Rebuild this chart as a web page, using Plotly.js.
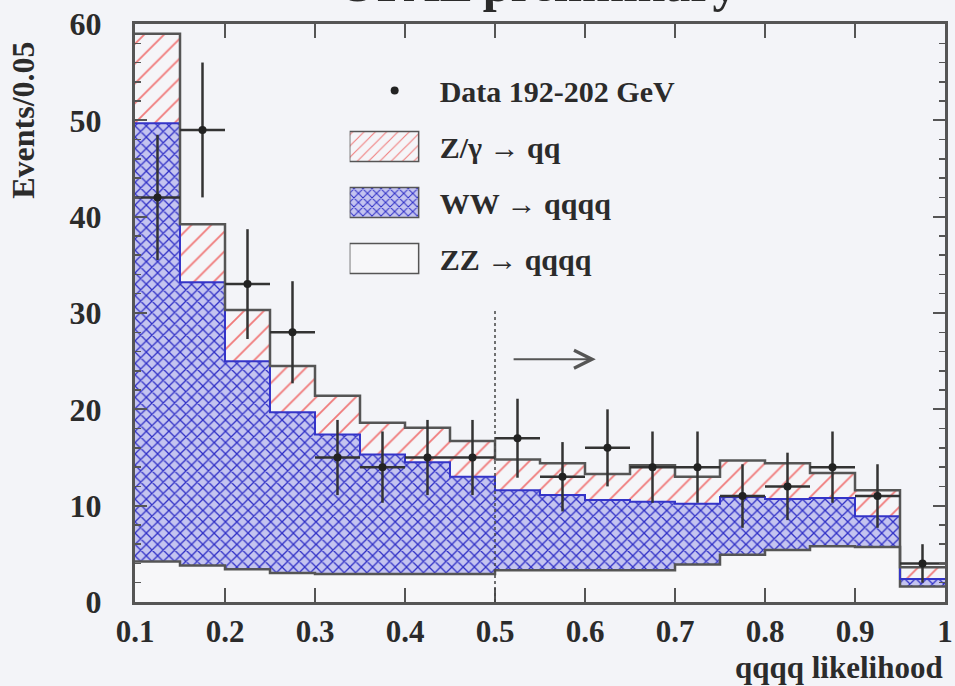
<!DOCTYPE html>
<html>
<head>
<meta charset="utf-8">
<script src="https://cdn.plot.ly/plotly-3.0.1.min.js"></script>
<style>
  html, body { margin: 0; padding: 0; background: #f3f4f8; }
  #plot { width: 955px; height: 686px; }
</style>
</head>
<body>
<div id="plot"></div>
<script>
// Bin centres of the qqqq likelihood histogram (bin width 0.05)
const binCenters = [0.125, 0.175, 0.225, 0.275, 0.325, 0.375, 0.425, 0.475, 0.525,
                    0.575, 0.625, 0.675, 0.725, 0.775, 0.825, 0.875, 0.925, 0.975];
// Monte Carlo contributions (events per bin), stacked ZZ -> WW -> Z/gamma
const zzQQQQ = [4.2, 3.8, 3.4, 3.0, 2.9, 2.9, 2.9, 2.9, 3.3, 3.3, 3.3, 3.3, 3.9, 4.9, 5.4, 5.8, 5.7, 1.6];
const wwQQQQ = [45.5, 29.4, 21.6, 16.7, 14.5, 12.4, 11.6, 10.1, 8.3, 7.8, 7.3, 7.1, 6.3, 6.0, 5.3, 5.0, 3.2, 0.8];
const zgQQ   = [9.3, 6.0, 5.3, 4.8, 4.0, 3.3, 3.6, 3.7, 3.2, 3.3, 2.7, 3.8, 2.8, 3.8, 3.7, 2.6, 2.7, 1.2];
// Data 192-202 GeV
const dataCounts = [42, 49, 33, 28, 15, 14, 15, 15, 17, 13, 16, 14, 14, 11, 12, 14, 11, 4];
const dataErrors = [6.5, 7, 5.7, 5.3, 3.9, 3.7, 3.9, 3.9, 4.1, 3.6, 4, 3.7, 3.7, 3.3, 3.5, 3.7, 3.3, 2];
const xTickVals = [0.1, 0.2, 0.3, 0.4, 0.5, 0.6, 0.7, 0.8, 0.9, 1];
const xTickText = ['0.1', '0.2', '0.3', '0.4', '0.5', '0.6', '0.7', '0.8', '0.9', '1'];
const yTickVals = [0, 10, 20, 30, 40, 50, 60];

const halfBin = 0.025;
const edges = binCenters.map(c => +(c - halfBin).toFixed(3)).concat([+(binCenters[binCenters.length - 1] + halfBin).toFixed(3)]);
const cumWW = zzQQQQ.map((v, i) => v + wwQQQQ[i]);
const cumTot = cumWW.map((v, i) => v + zgQQ[i]);
const stepY = arr => arr.concat([arr[arr.length - 1]]);

const FONT = 'Liberation Serif, Times New Roman, serif';
const TXT = '#2b2b2b';
const FRAME = '#555555';

const traces = [
  {
    type: 'bar', name: 'ZZ \u2192 qqqq', x: binCenters, y: zzQQQQ,
    marker: { color: '#f7f7f9', line: { width: 0 } },
    legendgroup: 'zz', legendrank: 4, hoverinfo: 'skip'
  },
  {
    type: 'bar', name: 'WW \u2192 qqqq', x: binCenters, y: wwQQQQ,
    marker: { color: '#c4c4f0', line: { width: 0 },
      pattern: { shape: 'x', fgcolor: '#3030c6', bgcolor: '#c4c4f0', size: 8, solidity: 0.3 } },
    legendgroup: 'ww', legendrank: 3, hoverinfo: 'skip'
  },
  {
    type: 'bar', name: 'Z/\u03b3 \u2192 qq', x: binCenters, y: zgQQ,
    marker: { color: '#f5f5f8', line: { width: 0 },
      pattern: { shape: '/', fgcolor: '#f07a7a', bgcolor: '#f5f5f8', size: 14, solidity: 0.13 } },
    legendgroup: 'zg', legendrank: 2, hoverinfo: 'skip'
  },
  { type: 'scatter', mode: 'lines', x: edges, y: stepY(zzQQQQ), line: { shape: 'hv', color: FRAME, width: 2.5 }, showlegend: false, hoverinfo: 'skip' },
  { type: 'scatter', mode: 'lines', x: edges, y: stepY(cumWW), line: { shape: 'hv', color: '#3434c8', width: 2 }, showlegend: false, hoverinfo: 'skip' },
  { type: 'scatter', mode: 'lines', x: edges, y: stepY(cumTot), line: { shape: 'hv', color: FRAME, width: 2.5 }, showlegend: false, hoverinfo: 'skip' },
  {
    type: 'scatter', mode: 'markers', name: 'Data 192-202 GeV', x: binCenters, y: dataCounts,
    marker: { color: '#222', size: 8 },
    error_y: { type: 'data', array: dataErrors, visible: true, color: '#333', thickness: 2.5, width: 0 },
    error_x: { type: 'constant', value: halfBin, visible: true, color: '#333', thickness: 2.5, width: 0 },
    legendgroup: 'data', legendrank: 1, hoverinfo: 'skip'
  }
];

const tickFont = { family: FONT, size: 31, color: TXT, weight: 'bold' };

const layout = {
  width: 955, height: 686,
  margin: { l: 135, r: 10, t: 24, b: 84 },
  paper_bgcolor: '#f3f4f8', plot_bgcolor: '#f3f4f8',
  barmode: 'stack', bargap: 0,
  showlegend: true,
  title: {
    text: 'OPAL preliminary', xref: 'container', yref: 'container',
    x: 0.563, xanchor: 'center', y: 0.9985, yanchor: 'bottom',
    font: { family: FONT, size: 50, color: TXT, weight: 'bold' }
  },
  legend: {
    x: 0.265, xanchor: 'left', y: 0.93, yanchor: 'top',
    bgcolor: 'rgba(0,0,0,0)', borderwidth: 0,
    font: { family: FONT, size: 30, color: TXT, weight: 'bold' },
    itemwidth: 80, traceorder: 'grouped', tracegroupgap: 14
  },
  xaxis: {
    range: [0.1, 1.0], tickvals: xTickVals, ticktext: xTickText,
    ticks: 'inside', ticklen: 14, tickwidth: 2, tickcolor: FRAME,
    showline: true, linecolor: FRAME, linewidth: 3, mirror: 'ticks',
    showgrid: false, zeroline: false, tickfont: tickFont, ticklabelstandoff: 0,
    ticklabeloverflow: 'allow'
  },
  yaxis: {
    range: [0, 60], tickvals: yTickVals,
    ticks: 'inside', ticklen: 12, tickwidth: 2, tickcolor: FRAME,
    minor: { dtick: 2, ticks: 'inside', ticklen: 6, tickwidth: 1.5, tickcolor: FRAME, showgrid: false },
    showline: true, linecolor: FRAME, linewidth: 3, mirror: 'ticks',
    showgrid: false, zeroline: false, tickfont: { family: FONT, size: 32, color: TXT, weight: 'bold' },
    ticklabelstandoff: 24
  },
  shapes: [
    { type: 'line', xref: 'x', yref: 'y', x0: 0.5, x1: 0.5, y0: 0, y1: 30.3,
      line: { color: '#444', width: 1.5, dash: 'dot' } }
  ],
  annotations: [
    { text: 'Events/0.05', xref: 'paper', yref: 'paper', x: -0.1385, y: 0.834,
      textangle: -90, showarrow: false, xanchor: 'center', yanchor: 'middle',
      font: { family: FONT, size: 32, color: TXT, weight: 'bold' } },
    { text: 'qqqq likelihood', xref: 'paper', yref: 'paper', x: 1.0, y: -0.113,
      showarrow: false, xanchor: 'right', yanchor: 'middle',
      font: { family: FONT, size: 31, color: TXT, weight: 'bold' } },
    { text: '', xref: 'x', yref: 'y', x: 0.612, y: 25.2, axref: 'x', ayref: 'y', ax: 0.519, ay: 25.2,
      showarrow: true, arrowhead: 5, arrowsize: 1.6, arrowwidth: 2.2, arrowcolor: '#555' }
  ]
};

function widenSwatches(gd) {
  // enlarge legend swatches of the histogram entries to the wide boxes of the original figure
  gd.querySelectorAll('.legend .legendpoints path').forEach(p => {
    const d = p.getAttribute('d') || '';
    if (d.indexOf('H-6V-6') !== -1 || p.classList.contains('legendbar')) {
      p.setAttribute('d', 'M-45,-15H24V15H-45Z');
      p.style.stroke = '#555';
      p.style.strokeWidth = '1.5px';
      p.style.strokeOpacity = '1';
    }
  });
}

const gdEl = document.getElementById('plot');
Plotly.newPlot(gdEl, traces, layout, { staticPlot: true, displayModeBar: false }).then(gd => {
  widenSwatches(gd);
  setTimeout(() => widenSwatches(gd), 50);
  setTimeout(() => widenSwatches(gd), 300);
});
</script>
</body>
</html>
